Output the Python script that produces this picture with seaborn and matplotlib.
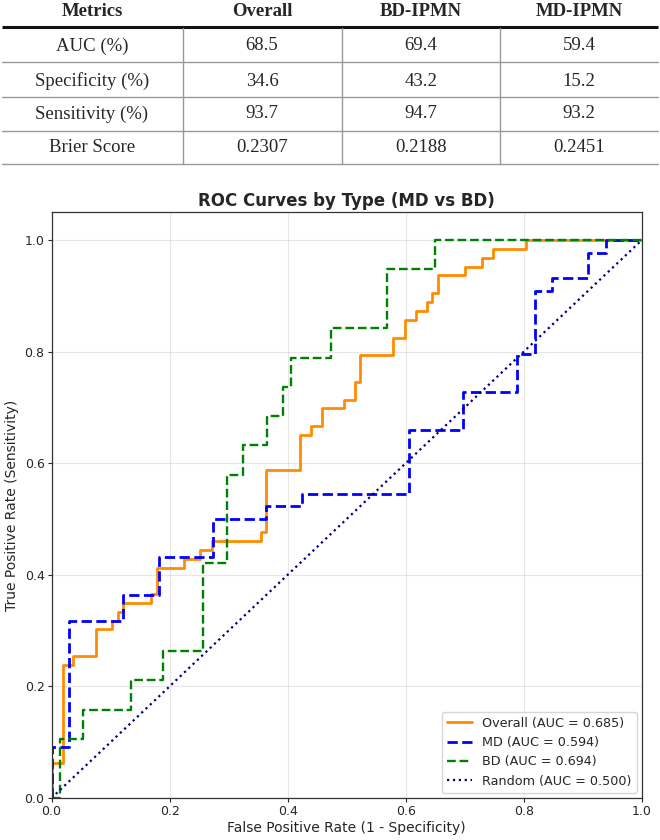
import matplotlib
matplotlib.use("Agg")
import matplotlib.pyplot as plt
import seaborn as sns

# table values
metric_names = ["AUC (%)", "Specificity (%)", "Sensitivity (%)", "Brier Score"]
table_cols = ["Metrics", "Overall", "BD-IPMN", "MD-IPMN"]
overall_vals = ["68.5", "34.6", "93.7", "0.2307"]
bd_vals = ["69.4", "43.2", "94.7", "0.2188"]
md_vals = ["59.4", "15.2", "93.2", "0.2451"]

# roc curve corner points
overall_fpr = [0, 0, 0.019, 0.037, 0.075, 0.103, 0.112, 0.121, 0.168, 0.178, 0.224,
               0.252, 0.271, 0.355, 0.364, 0.421, 0.439, 0.458, 0.495, 0.514, 0.523,
               0.579, 0.598, 0.617, 0.636, 0.645, 0.654, 0.701, 0.729, 0.748, 0.804, 1.0]
overall_tpr = [0, 0.063, 0.238, 0.254, 0.302, 0.317, 0.333, 0.349, 0.365, 0.413, 0.429,
               0.444, 0.460, 0.476, 0.587, 0.651, 0.667, 0.698, 0.714, 0.746, 0.794,
               0.825, 0.857, 0.873, 0.889, 0.905, 0.937, 0.952, 0.968, 0.984, 1.0, 1.0]
md_fpr = [0, 0, 0.030, 0.121, 0.182, 0.273, 0.364, 0.424, 0.606, 0.697, 0.788,
          0.818, 0.848, 0.909, 0.939, 1.0]
md_tpr = [0, 0.091, 0.318, 0.364, 0.432, 0.500, 0.523, 0.545, 0.659, 0.727, 0.795,
          0.909, 0.932, 0.977, 1.0, 1.0]
bd_fpr = [0, 0.014, 0.054, 0.135, 0.189, 0.257, 0.297, 0.324, 0.365, 0.392, 0.405,
          0.473, 0.568, 0.649, 1.0]
bd_tpr = [0, 0.105, 0.158, 0.211, 0.263, 0.421, 0.579, 0.632, 0.684, 0.737, 0.789,
          0.842, 0.947, 1.0, 1.0]
rand_fpr = [0, 1]
rand_tpr = [0, 1]

auc_overall = 0.685
auc_md = 0.594
auc_bd = 0.694
auc_rand = 0.500

sns.set_style("ticks")
plt.rcParams['font.family'] = ['DejaVu Sans']

fig = plt.figure(figsize=(6.6, 8.4), dpi=100)

# ---- metrics table on top (pixel coords) ----
tab = fig.add_axes([0, 1 - 166 / 840, 1, 166 / 840])
tab.set_xlim(0, 660)
tab.set_ylim(166, 0)
tab.axis("off")
serif = "Liberation Serif"
col_x = [92, 262, 421, 579]
for x, name in zip(col_x, table_cols):
    tab.text(x, 11, name, ha="center", va="center", fontsize=13.5,
             fontweight="bold", family=serif)
row_y = [46, 81, 114, 147]
for i, y in enumerate(row_y):
    vals = [metric_names[i], overall_vals[i], bd_vals[i], md_vals[i]]
    for x, v in zip(col_x, vals):
        tab.text(x, y, v, ha="center", va="center", fontsize=13.5, family=serif)
tab.plot([2, 658], [27, 27], color="#111111", lw=2.2, solid_capstyle="butt")
for y in [62, 97, 131, 164]:
    tab.plot([2, 658], [y, y], color="#999999", lw=1.0)
for x in [183, 342, 500]:
    tab.plot([x, x], [28, 164], color="#999999", lw=1.0)

# ---- ROC plot ----
ax = fig.add_axes([51.5 / 660, 42 / 840, 590.5 / 660, 586 / 840])
sns.lineplot(x=overall_fpr, y=overall_tpr, ax=ax, sort=False, estimator=None,
             color="darkorange", lw=2.0, drawstyle="steps-post",
             label=f"Overall (AUC = {auc_overall:.3f})")
sns.lineplot(x=md_fpr, y=md_tpr, ax=ax, sort=False, estimator=None,
             color="blue", lw=2.0, linestyle="--", drawstyle="steps-post",
             label=f"MD (AUC = {auc_md:.3f})")
sns.lineplot(x=bd_fpr, y=bd_tpr, ax=ax, sort=False, estimator=None,
             color="green", lw=1.7, linestyle="--", drawstyle="steps-post",
             label=f"BD (AUC = {auc_bd:.3f})")
sns.lineplot(x=rand_fpr, y=rand_tpr, ax=ax, sort=False, estimator=None,
             color="navy", lw=1.6, linestyle=":",
             label=f"Random (AUC = {auc_rand:.3f})")

ax.set_xlim(0, 1)
ax.set_ylim(0, 1.05)
ax.set_xticks([0, 0.2, 0.4, 0.6, 0.8, 1.0])
ax.set_yticks([0, 0.2, 0.4, 0.6, 0.8, 1.0])
ax.tick_params(labelsize=9, length=3, width=0.8, pad=2)
for s in ax.spines.values():
    s.set_color("#333333")
    s.set_linewidth(0.9)
ax.grid(True, color="#b0b0b0", alpha=0.3, lw=0.8)
ax.set_xlabel("False Positive Rate (1 - Specificity)", fontsize=10, labelpad=2)
ax.set_ylabel("True Positive Rate (Sensitivity)", fontsize=10, labelpad=4)
ax.set_title("ROC Curves by Type (MD vs BD)", fontsize=12, fontweight="bold", pad=4)
ax.legend(loc="lower right", fontsize=9.2, framealpha=0.8, handlelength=2.0,
          borderaxespad=0.4)

fig.savefig("out.png", dpi=100)
